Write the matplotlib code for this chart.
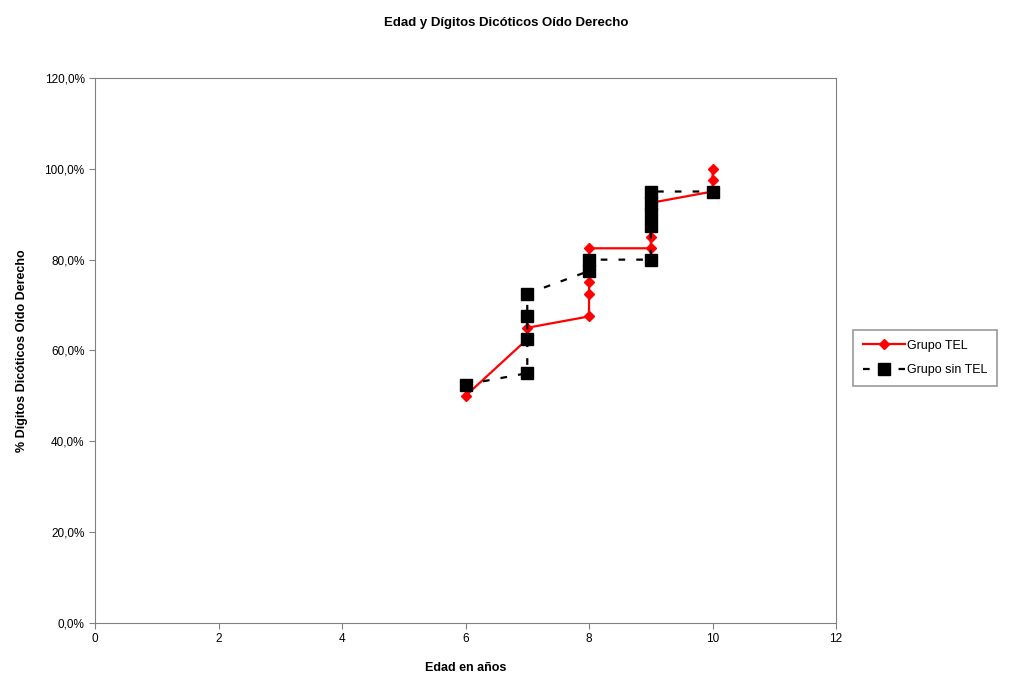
import matplotlib
matplotlib.use("Agg")
import matplotlib.pyplot as plt
from matplotlib.ticker import FuncFormatter

plt.rcParams['font.family'] = ['Liberation Sans', 'DejaVu Sans']

# Grupo TEL (edad, % dígitos dicóticos oído derecho)
edad_tel = [6, 7, 7, 8, 8, 8, 8, 9, 9, 9, 10, 10, 10]
pct_tel = [50.0, 62.5, 65.0, 67.5, 72.5, 75.0, 82.5, 82.5, 85.0, 92.5, 95.0, 97.5, 100.0]

# Grupo sin TEL
edad_sin = [6, 7, 7, 7, 7, 8, 8, 9, 9, 9, 9, 9, 10]
pct_sin = [52.5, 55.0, 62.5, 67.5, 72.5, 77.5, 80.0, 80.0, 87.5, 90.0, 92.5, 95.0, 95.0]

x_ticks = [0, 2, 4, 6, 8, 10, 12]
y_ticks = [0, 20, 40, 60, 80, 100, 120]

fig = plt.figure(figsize=(10.13, 6.81), dpi=100)
ax = fig.add_axes([0.0938, 0.0852, 0.7315, 0.8003])

ax.plot(edad_tel, pct_tel, color='#ff0000', lw=1.6, marker='D', ms=5.5,
        mec='#ff0000', mfc='#ff0000', label='Grupo TEL', zorder=2)
ax.plot(edad_sin, pct_sin, color='black', lw=1.6, ls=(0, (3, 5)), marker='s', ms=8,
        mec='black', mfc='black', label='Grupo sin TEL', zorder=3)

ax.set_xlim(0, 12)
ax.set_ylim(0, 120)
ax.set_xticks(x_ticks)
ax.set_yticks(y_ticks)
ax.yaxis.set_major_formatter(FuncFormatter(lambda v, p: f"{v:.1f}%".replace('.', ',')))
ax.tick_params(labelsize=8.5, length=4, color='#808080')
for s in ax.spines.values():
    s.set_color('#808080')

ax.set_xlabel('Edad en años', fontsize=9, fontweight='bold', labelpad=12)
ax.set_ylabel('% Dígitos Dicóticos Oído Derecho', fontsize=9, fontweight='bold', labelpad=12)
fig.suptitle('Edad y Dígitos Dicóticos Oído Derecho', fontsize=9.5, fontweight='bold', y=0.975)

leg = fig.legend(loc='center', bbox_to_anchor=(0.832, 0.427, 0.163, 0.095),
                 fontsize=9, frameon=True, fancybox=False, edgecolor='#808080',
                 handlelength=3.3, borderaxespad=0, handletextpad=0.2,
                 borderpad=0.8, labelspacing=1.0)
leg.get_frame().set_linewidth(1.2)

fig.savefig('out.png', dpi=100)
